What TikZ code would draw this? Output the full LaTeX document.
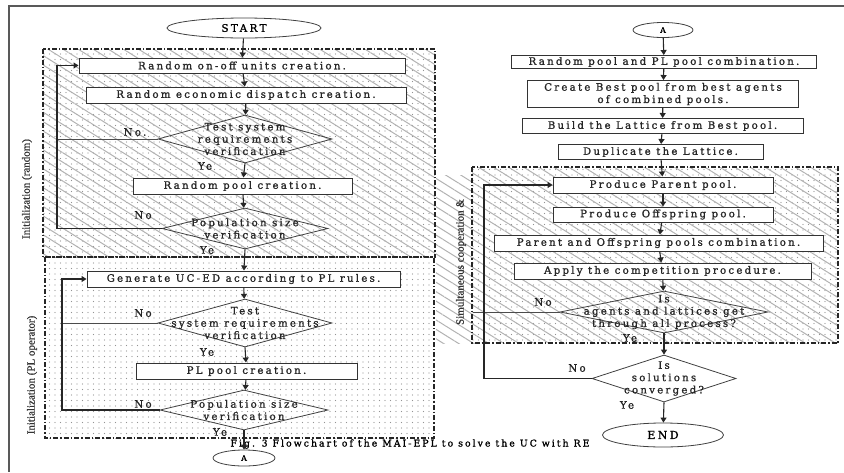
\documentclass[tikz,border=0pt]{standalone}
\usepackage{fontspec}
\setmainfont{DejaVu Serif}[LetterSpace=22,FakeBold=1.2]
\newfontfamily\condfont{Liberation Serif}[FakeBold=0.8]
\usetikzlibrary{shapes.geometric,arrows.meta,patterns.meta}
\begin{document}
\begin{tikzpicture}[x=1pt,y=-1pt,
  boxtxt/.style={font=\fontsize{10.2}{12.3}\selectfont, text=black!85},
  box/.style={boxtxt, draw=black!80, line width=1pt, fill=white, inner sep=0pt, align=center},
  dia/.style={diamond, draw=black!75, line width=0.8pt, inner sep=0pt},
  term/.style={ellipse, draw=black!75, line width=0.8pt, fill=white, inner sep=0pt, font=\fontsize{10.5}{11}\selectfont},
  conn/.style={term, font=\fontsize{8}{9}\selectfont},
  dtxt/.style={boxtxt, align=center, inner sep=0pt},
  lbl/.style={boxtxt, inner sep=0pt},
  arr/.style={draw=black!85, line width=1.1pt, -{Triangle[length=5pt,width=6pt]}},
  ln/.style={draw=black!70, line width=1pt},
  region/.style={line width=1.2pt, draw=black!85, dash pattern=on 5pt off 2pt on 1.5pt off 2pt},
  hatch/.style={pattern={Lines[angle=-32,distance=8pt,line width=1pt]}, pattern color=gray!60},
  dotfill/.style={pattern={Dots[distance=5.5pt,radius=0.7pt]}, pattern color=gray!85},
  vlab/.style={rotate=90, font=\condfont\fontsize{11}{11}\selectfont, text=black!80, inner sep=0pt}
]
\useasboundingbox (0,0) rectangle (844,472);
% page frame
\draw[gray!70!black, line width=1.5pt] (844,6) -- (9,6) -- (9,472);
% regions
\fill[dotfill] (43,49) rectangle (435,257);
\fill[hatch] (43,49) rectangle (435,257);
\draw[region] (43,49) rectangle (435,257);
\fill[dotfill] (45,257) rectangle (434,438);
\draw[region] (45,257) rectangle (434,438);
\fill[hatch] (436,175) rectangle (472,343);
\fill[dotfill] (472,167) rectangle (838,343);
\fill[hatch] (472,167) rectangle (838,343);
\draw[region] (472,167) rectangle (838,343);
% vertical labels
\node[vlab] (vr1) at (27,189) {Initialization (random)};
\node[vlab] (vr2) at (32,375) {Initialization (PL operator)};
\node[vlab] (vr3) at (461,262) {Simultaneous cooperation \&};
% caption
\node[font=\fontsize{9.3}{10}\selectfont, inner sep=0pt] (cap) at (410,444) {Fig. 3 Flowchart of the MAI-EPL to solve the UC with RE};
% left column
\node[term, minimum width=154pt, minimum height=20pt] (start) at (244,28) {START};
\node[box, minimum width=326pt, minimum height=15pt] (b1) at (242,65.5) {Random on-off units creation.};
\node[box, minimum width=320pt, minimum height=16pt] (b2) at (246,95) {Random economic dispatch creation.};
\node[dia, minimum width=174pt, minimum height=48pt] (d1) at (245,139) {};
\node[dtxt] (d1t) at (245,139) {Test system\\requirements\\verification};
\node[box, minimum width=219pt, minimum height=16pt] (b3) at (242.5,186) {Random pool creation.};
\node[dia, minimum width=166pt, minimum height=41pt] (d2) at (245,228.5) {};
\node[dtxt] (d2t) at (245,228.5) {Population size\\verification};
\node[box, minimum width=313pt, minimum height=16pt] (b4) at (243.5,279) {Generate UC-ED according to PL rules.};
\node[dia, minimum width=174pt, minimum height=48pt] (d3) at (245,323) {};
\node[dtxt] (d3t) at (245,323) {Test\\system requirements\\verification};
\node[box, minimum width=221pt, minimum height=16pt] (b5) at (246.5,371) {PL pool creation.};
\node[dia, minimum width=168pt, minimum height=40pt] (d4) at (244,410) {};
\node[dtxt] (d4t) at (244,410) {Population size\\verification};
\node[conn, minimum width=62pt, minimum height=16pt] (a1) at (244,458) {A};
% left labels
\node[lbl] (no1) at (135,132) {No.};
\node[lbl] (ye1) at (205,166) {Ye};
\node[lbl] (no2) at (143,215) {No};
\node[lbl] (ye2) at (207,250) {Ye};
\node[lbl] (no3) at (143,313) {No};
\node[lbl] (ye3) at (207,352) {Ye};
\node[lbl] (no4) at (143,404) {No};
\node[lbl] (ye4) at (220,432) {Ye};
% left connectors
\draw[arr] (start) -- (b1);
\draw[arr] (b1) -- (b2);
\draw[arr] (b2) -- (d1);
\draw[arr] (d1.south) -- (b3);
\draw[arr] (b3) -- (d2);
\draw[arr] (d2.south) -- (b4);
\draw[arr] (b4) -- (d3);
\draw[arr] (d3.south) -- (b5);
\draw[arr] (b5) -- (d4);
\draw[arr] (d4.south) -- (a1);
\coordinate (lx1) at (57,228.5);
\coordinate (lx2) at (62,410);
\draw[ln] (d1.west) -- (d1.west -| lx1);
\draw[arr] (d2.west) -- (lx1) |- (b1.west);
\draw[ln] (d3.west) -- (d3.west -| lx2);
\draw[arr] (d4.west) -- (lx2) |- (b4.west);
% right column
\node[conn, minimum width=60pt, minimum height=15pt] (a2) at (663,30) {A};
\node[box, minimum width=305pt, minimum height=13pt] (r1) at (664,62) {Random pool and PL pool combination.};
\node[box, minimum width=271pt, minimum height=27pt] (r2) at (663,94) {Create Best pool from best agents\\of combined pools.};
\node[box, minimum width=281pt, minimum height=15pt] (r3) at (662.5,126) {Build the Lattice from Best pool.};
\node[box, minimum width=205pt, minimum height=15pt] (r4) at (660.5,152) {Duplicate the Lattice.};
\node[box, minimum width=220pt, minimum height=16pt] (r5) at (663,185) {Produce Parent pool.};
\node[box, minimum width=220pt, minimum height=15pt] (r6) at (663,214.5) {Produce Offspring pool.};
\node[box, minimum width=329pt, minimum height=16pt] (r7) at (658.5,243) {Parent and Offspring pools combination.};
\node[box, minimum width=297pt, minimum height=16pt] (r8) at (662.5,271) {Apply the competition procedure.};
\node[dia, minimum width=208pt, minimum height=42pt] (d5) at (664,312) {};
\node[dtxt] (d5t) at (664,312) {Is\\agents and lattices get\\through all process?};
\node[dia, minimum width=144pt, minimum height=47pt] (d6) at (664,378.5) {};
\node[dtxt] (d6t) at (664,378.5) {Is\\solutions\\converged?};
\node[term, minimum width=121pt, minimum height=24pt, font=\fontsize{11}{12}\selectfont] (end) at (663,435) {END};
\node[lbl] (no5) at (543,302) {No};
\node[lbl] (ye5) at (630,338) {Ye};
\node[lbl] (no6) at (577,368) {No};
\node[lbl] (ye6) at (627,405) {Ye};
\draw[arr] (a2) -- (r1);
\draw[arr] (r1) -- (r2);
\draw[arr] (r2) -- (r3);
\draw[arr] (r3) -- (r4);
\draw[arr] (r4) -- (r5);
\draw[arr] (r5) -- (r6);
\draw[arr] (r6) -- (r7);
\draw[arr] (r7) -- (r8);
\draw[arr] (r8) -- (d5);
\draw[arr] (d5.south) -- (d6.north);
\draw[arr] (d6.south) -- (end);
\coordinate (rx) at (484,378.5);
\coordinate (rl) at (473,312);
\draw[ln] (d5.west) -- (rl);
\draw[arr] (d6.west) -- (rx) |- (r5.west);
\end{tikzpicture}
\end{document}
